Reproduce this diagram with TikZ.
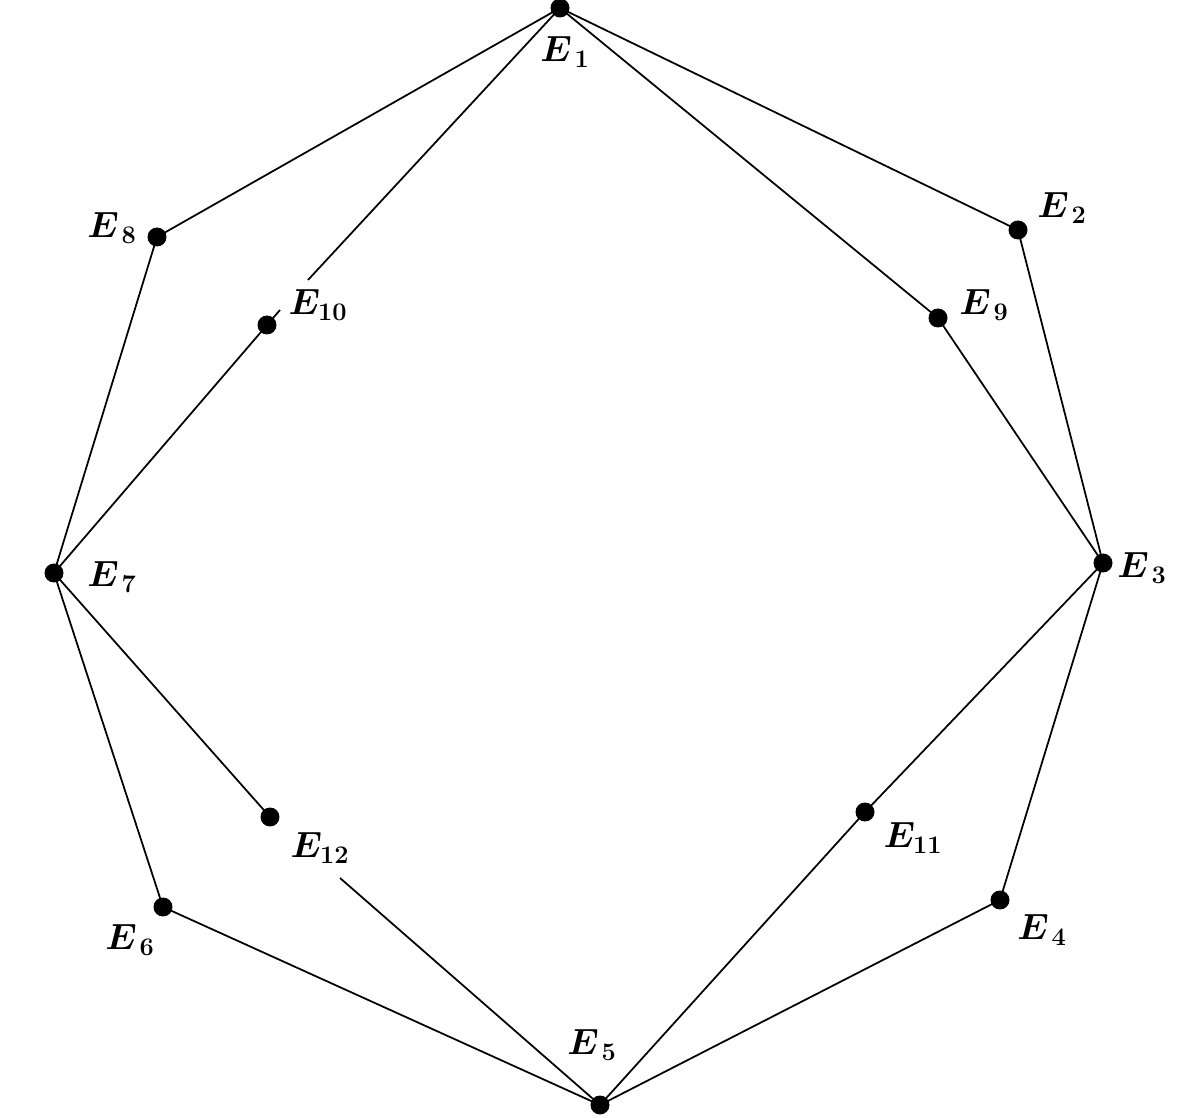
\documentclass[tikz,border=0pt]{standalone}
\begin{document}
\begin{tikzpicture}[x=0.02cm,y=-0.02cm,
  vtx/.style={circle,fill=black,inner sep=0pt,minimum size=0.38cm},
  lbl/.style={inner sep=0pt,font=\fontsize{22}{26}\selectfont\boldmath},
  edge/.style={line width=1pt}]
\useasboundingbox (0,0) rectangle (1188,1118);
\node[vtx] (E1) at (560,8) {};
\node[vtx] (E2) at (1018,230) {};
\node[vtx] (E3) at (1103,563) {};
\node[vtx] (E4) at (1000,900) {};
\node[vtx] (E5) at (600,1105) {};
\node[vtx] (E6) at (163,907) {};
\node[vtx] (E7) at (54,573) {};
\node[vtx] (E8) at (157,237) {};
\node[vtx] (E9) at (938,318) {};
\node[vtx] (E10) at (267,325) {};
\node[vtx] (E11) at (865,812) {};
\node[vtx] (E12) at (270,817) {};
\coordinate (g10) at (308,280);
\coordinate (s10) at (280,310);
\coordinate (g12) at (340,878);
\node[lbl] (L1) at (565,52) {$E_{\,1}$};
\node[lbl] (L2) at (1062,208) {$E_{\,2}$};
\node[lbl] (L3) at (1142,568) {$E_{\,3}$};
\node[lbl] (L4) at (1042,930) {$E_{\,4}$};
\node[lbl] (L5) at (592,1045) {$E_{\,5}$};
\node[lbl] (L6) at (130,940) {$E_{\,6}$};
\node[lbl] (L7) at (112,577) {$E_{\,7}$};
\node[lbl] (L8) at (112,228) {$E_{\,8}$};
\node[lbl] (L9) at (984,305) {$E_{\,9}$};
\node[lbl] (L10) at (318,305) {$E_{10}$};
\node[lbl] (L11) at (913,838) {$E_{11}$};
\node[lbl] (L12) at (320,848) {$E_{12}$};
\draw[edge] (E1.center) -- (E8.center);
\draw[edge] (E1.center) -- (g10);
\draw[edge] (E10.center) -- (s10);
\draw[edge] (E1.center) -- (E2.center);
\draw[edge] (E1.center) -- (E9.center);
\draw[edge] (E2.center) -- (E3.center);
\draw[edge] (E9.center) -- (E3.center);
\draw[edge] (E3.center) -- (E11.center);
\draw[edge] (E3.center) -- (E4.center);
\draw[edge] (E4.center) -- (E5.center);
\draw[edge] (E11.center) -- (E5.center);
\draw[edge] (E5.center) -- (E6.center);
\draw[edge] (E5.center) -- (g12);
\draw[edge] (E6.center) -- (E7.center);
\draw[edge] (E7.center) -- (E12.center);
\draw[edge] (E7.center) -- (E10.center);
\draw[edge] (E7.center) -- (E8.center);
\end{tikzpicture}
\end{document}
